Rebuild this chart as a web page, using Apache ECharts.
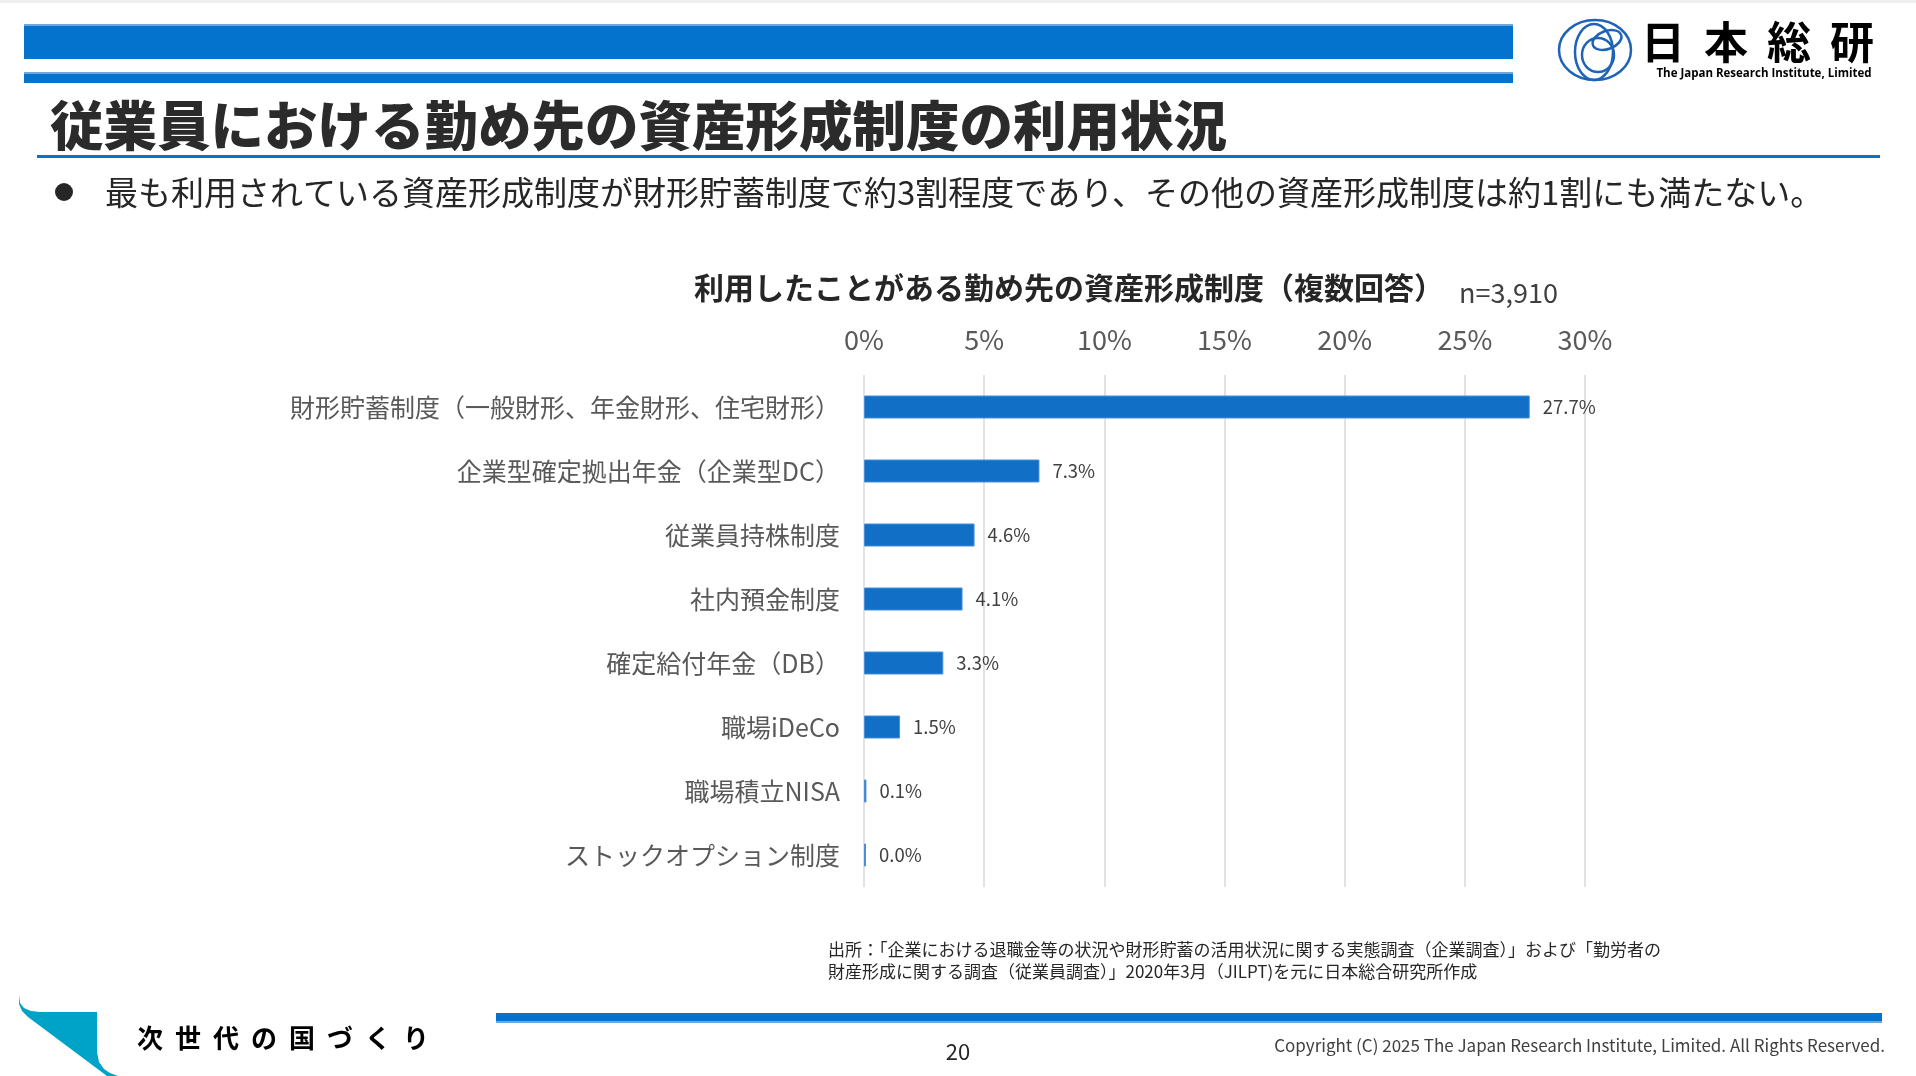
<!DOCTYPE html>
<html>
<head>
<meta charset="utf-8">
<script src="https://cdn.jsdelivr.net/npm/echarts@6/dist/echarts.min.js"></script>
<style>
html,body{margin:0;padding:0;background:#fff;}
#c{width:1916px;height:1076px;}
</style>
</head>
<body>
<div id="c"></div>
<script>
const categories = [
  '財形貯蓄制度（一般財形、年金財形、住宅財形）',
  '企業型確定拠出年金（企業型DC）',
  '従業員持株制度',
  '社内預金制度',
  '確定給付年金（DB）',
  '職場iDeCo',
  '職場積立NISA',
  'ストックオプション制度'
];
const values = [27.7, 7.3, 4.6, 4.1, 3.3, 1.5, 0.1, 0.0];
const axisMin = 0;
const axisMax = 30;
const axisInterval = 5;

const slideTitle = '従業員における勤め先の資産形成制度の利用状況';
const bulletText = '最も利用されている資産形成制度が財形貯蓄制度で約3割程度であり、その他の資産形成制度は約1割にも満たない。';
const chartTitle = '利用したことがある勤め先の資産形成制度（複数回答）';
const sampleNote = 'n=3,910';
const sourceLines = [
  '出所：「企業における退職金等の状況や財形貯蓄の活用状況に関する実態調査（企業調査）」および「勤労者の',
  '財産形成に関する調査（従業員調査）」2020年3月（JILPT)を元に日本総合研究所作成'
];
const logoChars = ['日', '本', '総', '研'];
const sloganChars = ['次', '世', '代', 'の', '国', 'づ', 'く', 'り'];
const copyright = 'Copyright (C) 2025 The Japan Research Institute, Limited. All Rights Reserved.';
const pageNo = '20';

const FONT = '"Noto Sans CJK JP", "Noto Sans", sans-serif';
const chart = echarts.init(document.getElementById('c'), null, {renderer: 'canvas'});

const graphics = [];
graphics.push({type: 'rect', shape: {x: 0, y: 0, width: 1916, height: 3}, style: {fill: '#eeeeee'}});
// header bars
graphics.push({type: 'rect', shape: {x: 24, y: 24, width: 1489, height: 35}, style: {fill: '#0373CD'}});
graphics.push({type: 'rect', shape: {x: 24, y: 24, width: 1489, height: 2}, style: {fill: '#6aa8e0'}});
graphics.push({type: 'rect', shape: {x: 24, y: 72, width: 1489, height: 11}, style: {fill: '#0373CD'}});
graphics.push({type: 'rect', shape: {x: 24, y: 72, width: 1489, height: 2}, style: {fill: '#6aa8e0'}});
// logo ellipses
const logoStroke = '#1F63B6';
graphics.push({type: 'ellipse', shape: {cx: 1595, cy: 50, rx: 36, ry: 30}, style: {fill: 'none', stroke: logoStroke, lineWidth: 2.5}});
graphics.push({type: 'ellipse', shape: {cx: 1594, cy: 52, rx: 19, ry: 28}, style: {fill: 'none', stroke: logoStroke, lineWidth: 2.5}});
graphics.push({type: 'ellipse', shape: {cx: 1598, cy: 55, rx: 16, ry: 17}, style: {fill: 'none', stroke: logoStroke, lineWidth: 2.5}});
graphics.push({type: 'ellipse', shape: {cx: 0, cy: 0, rx: 15, ry: 9}, x: 1607, y: 40, rotation: 0.35, style: {fill: 'none', stroke: logoStroke, lineWidth: 2.5}});
// logo text
logoChars.forEach((ch, i) => {
  graphics.push({type: 'text', style: {text: ch, x: 1663 + i * 63, y: 42, textAlign: 'center', textVerticalAlign: 'middle', font: 'bold 44px ' + FONT, fill: '#000'}});
});
graphics.push({type: 'text', style: {text: 'The Japan Research Institute, Limited', x: 1764, y: 74, textAlign: 'center', textVerticalAlign: 'middle', font: 'bold 11.5px "Open Sans", "Noto Sans", sans-serif', fill: '#000'}});
// slide title
graphics.push({type: 'text', style: {text: slideTitle, x: 50, y: 126, textAlign: 'left', textVerticalAlign: 'middle', font: '900 53.5px ' + FONT, fill: '#2b2b2b'}});
graphics.push({type: 'rect', shape: {x: 37, y: 155, width: 1843, height: 3}, style: {fill: '#0373CD'}});
// bullet
graphics.push({type: 'circle', shape: {cx: 64, cy: 192, r: 9}, style: {fill: '#262626'}});
graphics.push({type: 'text', style: {text: bulletText, x: 105, y: 192, textAlign: 'left', textVerticalAlign: 'middle', font: '33px ' + FONT, fill: '#262626'}});
// chart title
graphics.push({type: 'text', style: {text: chartTitle, x: 694, y: 288, textAlign: 'left', textVerticalAlign: 'middle', font: 'bold 30px ' + FONT, fill: '#262626'}});
graphics.push({type: 'text', style: {text: sampleNote, x: 1459, y: 293, textAlign: 'left', textVerticalAlign: 'middle', font: '27px ' + FONT, fill: '#404040'}});
// source
sourceLines.forEach((t, i) => {
  graphics.push({type: 'text', style: {text: t, x: 828, y: 950 + i * 22, textAlign: 'left', textVerticalAlign: 'middle', font: '17px ' + FONT, fill: '#262626'}});
});
// footer bar
graphics.push({type: 'rect', shape: {x: 496, y: 1013, width: 1386, height: 10}, style: {fill: '#0373CD'}});
graphics.push({type: 'rect', shape: {x: 496, y: 1021, width: 1386, height: 2}, style: {fill: '#6aa8e0'}});
// teal wedge
graphics.push({type: 'polygon', shape: {points: [
  [19, 995], [20, 1003], [24, 1008], [31, 1011], [40, 1012], [97, 1012], [97, 1052],
  [99, 1062], [104, 1069], [110, 1073], [118, 1076], [107, 1076], [28, 1017], [22, 1011], [19, 1004]
]}, style: {fill: '#00A3C8'}});
// slogan
sloganChars.forEach((ch, i) => {
  graphics.push({type: 'text', style: {text: ch, x: 150 + i * 38, y: 1038, textAlign: 'center', textVerticalAlign: 'middle', font: 'bold 26px ' + FONT, fill: '#000'}});
});
// page number & copyright
graphics.push({type: 'text', style: {text: pageNo, x: 958, y: 1052, textAlign: 'center', textVerticalAlign: 'middle', font: '22px ' + FONT, fill: '#262626'}});
graphics.push({type: 'text', style: {text: copyright, x: 1885, y: 1046, textAlign: 'right', textVerticalAlign: 'middle', font: '17px ' + FONT, fill: '#404040'}});

const option = {
  backgroundColor: '#ffffff',
  animation: false,
  textStyle: {fontFamily: FONT},
  grid: {left: 864, right: 331, top: 375, bottom: 189, containLabel: false},
  xAxis: {
    type: 'value',
    position: 'top',
    min: axisMin,
    max: axisMax,
    interval: axisInterval,
    axisLine: {show: false},
    axisTick: {show: false},
    splitLine: {show: true, lineStyle: {color: '#d9d9d9', width: 1.5}},
    axisLabel: {formatter: '{value}%', color: '#595959', fontSize: 27, margin: 22, fontFamily: FONT}
  },
  yAxis: {
    type: 'category',
    inverse: true,
    data: categories,
    axisLine: {show: false},
    axisTick: {show: false},
    axisLabel: {color: '#595959', fontSize: 25, margin: 24, fontFamily: FONT}
  },
  series: [{
    type: 'bar',
    data: values,
    barWidth: 23,
    barMinHeight: 2,
    itemStyle: {color: '#1170C6', borderColor: '#4a8fd6', borderWidth: 1},
    label: {
      show: true,
      position: 'right',
      distance: 13,
      color: '#404040',
      fontSize: 18.5,
      fontFamily: FONT,
      formatter: p => p.value.toFixed(1) + '%'
    }
  }],
  graphic: graphics
};
chart.setOption(option);
</script>
</body>
</html>
